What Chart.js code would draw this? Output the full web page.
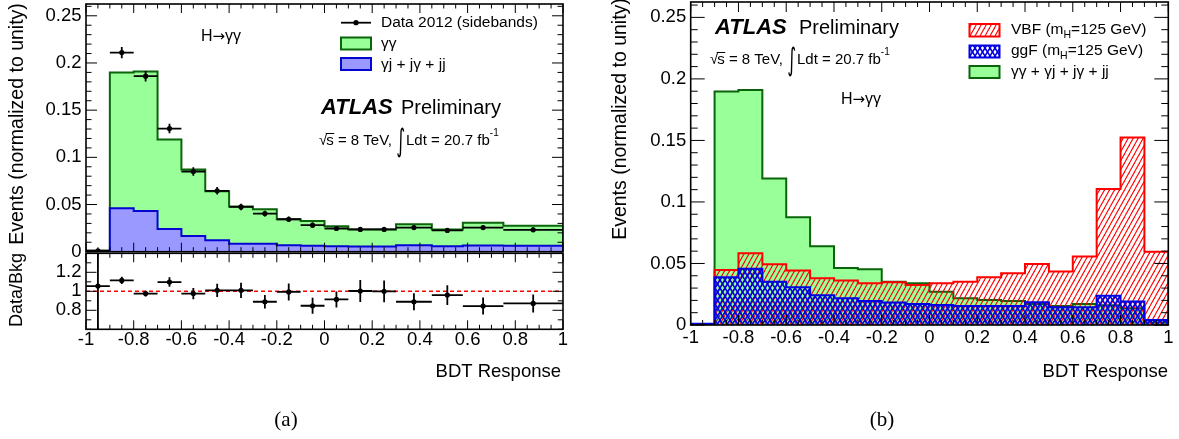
<!DOCTYPE html>
<html>
<head>
<meta charset="utf-8">
<script src="https://cdn.jsdelivr.net/npm/chart.js@4.4.0/dist/chart.umd.min.js"></script>
<style>
  html, body { margin: 0; padding: 0; background: #fff; }
  #wrap { position: relative; width: 1179px; height: 439px; }
  #wrap canvas { position: absolute; left: 0; top: 0; }
</style>
</head>
<body>
<div id="wrap">
  <canvas id="mainLeft" width="1179" height="439"></canvas>
  <canvas id="ratioLeft" width="1179" height="439"></canvas>
  <canvas id="mainRight" width="1179" height="439"></canvas>
</div>
<script>
// ---------- (a) sideband data vs. background model ----------
const leftEdges = [-1, -0.9, -0.8, -0.7, -0.6, -0.5, -0.4, -0.3, -0.2, -0.1, 0, 0.1, 0.2, 0.3, 0.45, 0.58, 0.75, 1];
const gamgam    = [0.001, 0.144, 0.148, 0.095, 0.0703, 0.0518, 0.0397, 0.0367, 0.0276, 0.0264, 0.0212, 0.0181, 0.0181, 0.0224, 0.0178, 0.0241, 0.0213];
const reducible = [0, 0.046, 0.043, 0.024, 0.0167, 0.0122, 0.0083, 0.0083, 0.0068, 0.0062, 0.0058, 0.0055, 0.0055, 0.0068, 0.0058, 0.0065, 0.0062];
const sideband  = [0.001, 0.211, 0.186, 0.1305, 0.085, 0.0645, 0.0474, 0.0404, 0.0344, 0.0281, 0.0246, 0.0236, 0.0236, 0.0256, 0.0225, 0.0256, 0.0232];
const sidebandErr = [0.001, 0.006, 0.0055, 0.005, 0.0045, 0.004, 0.0035, 0.003, 0.003, 0.0028, 0.0025, 0.0025, 0.0025, 0.0025, 0.0024, 0.0025, 0.0024];
const ratio     = [1.055, 1.114, 0.976, 1.097, 0.976, 1.01, 1.01, 0.89, 0.993, 0.848, 0.914, 1.003, 1.0, 0.89, 0.96, 0.845, 0.872];
const ratioErr  = [1.0, 0.038, 0.03, 0.05, 0.06, 0.07, 0.08, 0.07, 0.09, 0.085, 0.085, 0.115, 0.115, 0.09, 0.105, 0.09, 0.095];

// ---------- (b) signal and background shapes ----------
const rightEdges = [-1, -0.9, -0.8, -0.7, -0.6, -0.5, -0.4, -0.3, -0.2, -0.1, 0, 0.1, 0.2, 0.3, 0.4, 0.5, 0.6, 0.7, 0.8, 0.9, 1];
const bkgShape = [0, 0.1897, 0.191, 0.119, 0.0875, 0.064, 0.0464, 0.0453, 0.0352, 0.0339, 0.0271, 0.0217, 0.0203, 0.0195, 0.017, 0.0154, 0.0171, 0.016, 0.0136, 0.002];
const vbfShape = [0, 0.0447, 0.0583, 0.0493, 0.0442, 0.038, 0.0361, 0.0339, 0.0347, 0.0325, 0.034, 0.0352, 0.0388, 0.042, 0.0496, 0.0434, 0.0556, 0.1106, 0.1523, 0.0596];
const ggfShape = [0.001, 0.0388, 0.0458, 0.0352, 0.0306, 0.0241, 0.0217, 0.0195, 0.0182, 0.0171, 0.0163, 0.0154, 0.0154, 0.0154, 0.0184, 0.0144, 0.0144, 0.0238, 0.019, 0.004];

// ---------- axes ----------
const xTicks = [-1, -0.8, -0.6, -0.4, -0.2, 0, 0.2, 0.4, 0.6, 0.8, 1];
const xTickLabels = ['-1', '-0.8', '-0.6', '-0.4', '-0.2', '0', '0.2', '0.4', '0.6', '0.8', '1'];
const yTicks = [0, 0.05, 0.1, 0.15, 0.2, 0.25];
const yTickLabels = ['0', '0.05', '0.1', '0.15', '0.2', '0.25'];
const ratioTicks = [0.8, 1, 1.2];
const ratioTickLabels = ['0.8', '1', '1.2'];

const LS = '"Liberation Sans", Arial, Helvetica, sans-serif';
const GREEN_FILL = '#99ff99', GREEN_LINE = '#0a640a';
const BLUE_FILL = '#9999ff', BLUE_LINE = '#0505d2';
const RED = '#ff0000';

function steps(from, to, step) {
  const out = [];
  for (let k = 0; from + k * step <= to + 1e-9; k++) out.push(+(from + k * step).toFixed(4));
  return out;
}

// ROOT-style histogram outline: up from zero at the first edge, down to zero at the last
function histPoints(edges, values) {
  const pts = [{ x: edges[0], y: 0 }];
  values.forEach((v, i) => pts.push({ x: edges[i], y: v }));
  pts.push({ x: edges[edges.length - 1], y: values[values.length - 1] });
  pts.push({ x: edges[edges.length - 1], y: 0 });
  return pts;
}

const centers = leftEdges.slice(0, -1).map((e, i) => (e + leftEdges[i + 1]) / 2);

function hatchPattern(ctx) {
  const c = document.createElement('canvas');
  c.width = 5; c.height = 9;
  const g = c.getContext('2d');
  g.strokeStyle = RED; g.lineWidth = 1.1;
  for (const dx of [-5, 0, 5]) {
    g.beginPath(); g.moveTo(dx, 9); g.lineTo(dx + 5, 0); g.stroke();
  }
  return ctx.createPattern(c, 'repeat');
}

function crossPattern(ctx) {
  const c = document.createElement('canvas');
  c.width = 5; c.height = 8;
  const g = c.getContext('2d');
  g.strokeStyle = '#0000e0'; g.lineWidth = 1.6;
  for (const dx of [-5, 0, 5]) {
    g.beginPath(); g.moveTo(dx, 8); g.lineTo(dx + 5, 0); g.stroke();
    g.beginPath(); g.moveTo(dx, 0); g.lineTo(dx + 5, 8); g.stroke();
  }
  return ctx.createPattern(c, 'repeat');
}

// frame with inward ticks on all four sides, plus tick labels
function rootFrame(cfg) {
  return {
    id: 'rootFrame',
    afterDraw(chart) {
      const { ctx, chartArea: a, scales: { x, y } } = chart;
      const isMajor = (v, list) => list.some(t => Math.abs(t - v) < 1e-6);
      ctx.save();
      ctx.strokeStyle = '#000';
      ctx.lineWidth = 1;
      const seg = (x0, y0, x1, y1) => { ctx.beginPath(); ctx.moveTo(x0, y0); ctx.lineTo(x1, y1); ctx.stroke(); };
      cfg.xMinor.forEach(v => {
        const px = x.getPixelForValue(v);
        const len = isMajor(v, cfg.xMajor) ? cfg.xLen : cfg.xLen / 2;
        seg(px, a.bottom, px, a.bottom - len);
        seg(px, a.top, px, a.top + len);
      });
      cfg.yMinor.forEach(v => {
        const py = y.getPixelForValue(v);
        const len = isMajor(v, cfg.yMajor) ? cfg.yLen : cfg.yLen / 2;
        seg(a.left, py, a.left + len, py);
        seg(a.right, py, a.right - len, py);
      });
      ctx.lineWidth = 1.6;
      ctx.strokeRect(a.left, a.top, a.right - a.left, a.bottom - a.top);

      ctx.fillStyle = '#000';
      ctx.font = `18.5px ${LS}`;
      ctx.textBaseline = 'middle';
      if (cfg.xLabels) {
        ctx.textAlign = 'center';
        cfg.xMajor.forEach((v, i) => ctx.fillText(cfg.xLabels[i], x.getPixelForValue(v), cfg.xLabelY));
      }
      ctx.textAlign = 'right';
      cfg.yMajor.forEach((v, i) => ctx.fillText(cfg.yLabels[i], a.left - 4.5, y.getPixelForValue(v)));
      ctx.restore();
    }
  };
}

// horizontal bin-width bars and vertical error bars for data points
const errorBars = {
  id: 'errorBars',
  afterDatasetsDraw(chart) {
    const { ctx, chartArea: a, scales: { x, y } } = chart;
    ctx.save();
    ctx.beginPath(); ctx.rect(a.left, a.top, a.right - a.left, a.bottom - a.top); ctx.clip();
    ctx.strokeStyle = '#000';
    ctx.lineWidth = 1.8;
    chart.data.datasets.forEach(ds => {
      if (!ds.errBars) return;
      const { lo, hi, err } = ds.errBars;
      ds.data.forEach((p, i) => {
        const px = x.getPixelForValue(p.x), py = y.getPixelForValue(p.y);
        ctx.beginPath();
        ctx.moveTo(x.getPixelForValue(lo[i]), py);
        ctx.lineTo(x.getPixelForValue(hi[i]), py);
        ctx.moveTo(px, y.getPixelForValue(p.y - err[i]));
        ctx.lineTo(px, y.getPixelForValue(p.y + err[i]));
        ctx.stroke();
      });
    });
    ctx.restore();
  }
};

function atlasLabel(ctx, x, y, xPrel) {
  ctx.textAlign = 'left';
  ctx.textBaseline = 'middle';
  ctx.font = `italic bold 22px ${LS}`;
  ctx.fillText('ATLAS', x, y);
  ctx.font = `20px ${LS}`;
  ctx.fillText('Preliminary', xPrel, y);
}

function lumiLabel(ctx, x, y) {
  ctx.textAlign = 'left';
  ctx.textBaseline = 'middle';
  ctx.font = `15px ${LS}`;
  ctx.fillText('\u221A', x, y);
  let cx = x + ctx.measureText('\u221A').width - 1;
  const sw = ctx.measureText('s').width;
  ctx.fillText('s', cx, y);
  ctx.lineWidth = 1;
  ctx.beginPath(); ctx.moveTo(cx - 0.5, y - 7.5); ctx.lineTo(cx + sw + 0.5, y - 7.5); ctx.stroke();
  cx += sw;
  const t1 = ' = 8 TeV, ';
  ctx.fillText(t1, cx, y);
  cx += ctx.measureText(t1).width;
  // tall integral sign
  ctx.save();
  ctx.translate(cx, y + 2);
  ctx.scale(0.85, 1.55);
  ctx.font = `20px "DejaVu Sans", ${LS}`;
  ctx.fillText('\u222B', 0, 0);
  const iw = ctx.measureText('\u222B').width * 0.85;
  ctx.restore();
  cx += iw + 1;
  ctx.font = `15px ${LS}`;
  const t2 = 'Ldt = 20.7 fb';
  ctx.fillText(t2, cx, y);
  cx += ctx.measureText(t2).width;
  ctx.font = `10px ${LS}`;
  ctx.fillText('-1', cx, y - 8);
}

// "H -> gamma gamma" with a proper wide arrow
function channelLabel(ctx, xc, y) {
  ctx.textAlign = 'left';
  ctx.textBaseline = 'middle';
  const parts = [['H', `16px ${LS}`], ['\u2192', '15px "DejaVu Sans", sans-serif'], ['\u03B3\u03B3', `16px ${LS}`]];
  let w = 0;
  parts.forEach(([t, f]) => { ctx.font = f; w += ctx.measureText(t).width; });
  let cx = xc - w / 2;
  parts.forEach(([t, f]) => { ctx.font = f; ctx.fillText(t, cx, y); cx += ctx.measureText(t).width; });
}

function verticalTitle(ctx, text, x, yCenter, size) {
  ctx.save();
  ctx.translate(x, yCenter);
  ctx.rotate(-Math.PI / 2);
  ctx.font = `${size}px ${LS}`;
  ctx.textAlign = 'center';
  ctx.textBaseline = 'middle';
  ctx.fillText(text, 0, 0);
  ctx.restore();
}

const common = {
  responsive: false,
  animation: false,
  events: [],
  plugins: { legend: { display: false }, tooltip: { enabled: false } },
  elements: { line: { borderJoinStyle: 'miter', borderCapStyle: 'butt', tension: 0 } }
};

// ---------- (a) upper pad ----------
const stackTop = gamgam.map((v, i) => v + reducible[i]);

new Chart(document.getElementById('mainLeft'), {
  type: 'line',
  data: {
    datasets: [
      {
        label: 'Data 2012 (sidebands)',
        data: centers.map((c, i) => ({ x: c, y: sideband[i] })),
        showLine: false, pointRadius: 2.6, pointBackgroundColor: '#000', pointBorderWidth: 0,
        errBars: { lo: leftEdges.slice(0, -1), hi: leftEdges.slice(1), err: sidebandErr },
        order: 0
      },
      {
        label: '\u03B3j + j\u03B3 + jj',
        data: histPoints(leftEdges, reducible),
        stepped: true, fill: 'origin', backgroundColor: BLUE_FILL, borderColor: BLUE_LINE,
        borderWidth: 2, pointRadius: 0, order: 1
      },
      {
        label: '\u03B3\u03B3',
        data: histPoints(leftEdges, stackTop),
        stepped: true, fill: 'origin', backgroundColor: GREEN_FILL, borderColor: GREEN_LINE,
        borderWidth: 2, pointRadius: 0, order: 2
      }
    ]
  },
  options: {
    ...common,
    layout: { padding: { left: 86, top: 2, right: 616, bottom: 187.3 } },
    scales: {
      x: { type: 'linear', min: -1, max: 1, display: false },
      y: { type: 'linear', min: 0, max: 0.2625, display: false }
    }
  },
  plugins: [
    errorBars,
    rootFrame({ xMajor: xTicks, xMinor: steps(-1, 1, 0.05), xLen: 9, yMajor: yTicks, yMinor: steps(0, 0.26, 0.01), yLen: 11, yLabels: yTickLabels }),
    {
      id: 'leftText',
      afterDraw(chart) {
        const ctx = chart.ctx;
        ctx.save();
        ctx.fillStyle = '#000';
        ctx.strokeStyle = '#000';
        verticalTitle(ctx, 'Events (normalized to unity)', 17.5, 124, 19.5);

        channelLabel(ctx, 221, 37);

        // legend
        ctx.lineWidth = 1.8;
        ctx.beginPath(); ctx.moveTo(341, 22.7); ctx.lineTo(371, 22.7); ctx.stroke();
        ctx.beginPath(); ctx.arc(356, 22.7, 2.6, 0, Math.PI * 2); ctx.fill();
        ctx.lineWidth = 2;
        ctx.fillStyle = GREEN_FILL; ctx.fillRect(341, 37.5, 30, 12);
        ctx.strokeStyle = GREEN_LINE; ctx.strokeRect(341, 37.5, 30, 12);
        ctx.fillStyle = BLUE_FILL; ctx.fillRect(341, 58, 30, 12);
        ctx.strokeStyle = BLUE_LINE; ctx.strokeRect(341, 58, 30, 12);
        ctx.fillStyle = '#000';
        ctx.font = `15.5px ${LS}`;
        ctx.textAlign = 'left';
        ctx.fillText('Data 2012 (sidebands)', 381, 23);
        ctx.fillText('\u03B3\u03B3', 381, 44);
        ctx.fillText('\u03B3j + j\u03B3 + jj', 381, 64.5);

        atlasLabel(ctx, 321, 108, 401);
        ctx.strokeStyle = '#000';
        lumiLabel(ctx, 319, 141);
        ctx.restore();
      }
    }
  ]
});

// ---------- (a) ratio pad ----------
new Chart(document.getElementById('ratioLeft'), {
  type: 'line',
  data: {
    datasets: [
      {
        data: centers.map((c, i) => ({ x: c, y: ratio[i] })),
        showLine: false, pointRadius: 2.6, pointBackgroundColor: '#000', pointBorderWidth: 0,
        errBars: { lo: leftEdges.slice(0, -1), hi: leftEdges.slice(1), err: ratioErr },
        order: 0
      },
      {
        data: [{ x: -1, y: 1 }, { x: 1, y: 1 }],
        borderColor: RED, borderWidth: 1.5, borderDash: [4, 3], pointRadius: 0, fill: false, order: 1
      }
    ]
  },
  options: {
    ...common,
    layout: { padding: { left: 86, top: 253.3, right: 616, bottom: 109.7 } },
    scales: {
      x: { type: 'linear', min: -1, max: 1, display: false },
      y: { type: 'linear', min: 0.6, max: 1.4, display: false }
    }
  },
  plugins: [
    errorBars,
    rootFrame({ xMajor: xTicks, xMinor: steps(-1, 1, 0.05), xLen: 9, xLabels: xTickLabels, xLabelY: 340,
                yMajor: ratioTicks, yMinor: steps(0.6, 1.4, 0.1), yLen: 10.5, yLabels: ratioTickLabels }),
    {
      id: 'ratioText',
      afterDraw(chart) {
        const ctx = chart.ctx;
        ctx.save();
        ctx.fillStyle = '#000';
        verticalTitle(ctx, 'Data/Bkg', 17.5, 290, 18);
        ctx.font = `18.5px ${LS}`;
        ctx.textAlign = 'right';
        ctx.textBaseline = 'middle';
        ctx.fillText('BDT Response', 561, 371.5);
        ctx.font = '21px "Liberation Serif", "Times New Roman", serif';
        ctx.textAlign = 'center';
        ctx.fillText('(a)', 286, 420);
        ctx.restore();
      }
    }
  ]
});

// ---------- (b) ----------
const rightCanvas = document.getElementById('mainRight');
const rctx = rightCanvas.getContext('2d');
const vbfHatch = hatchPattern(rctx);
const ggfCross = crossPattern(rctx);

new Chart(rightCanvas, {
  type: 'line',
  data: {
    datasets: [
      {
        label: 'ggF (mH=125 GeV)',
        data: histPoints(rightEdges, ggfShape),
        stepped: true, fill: 'origin', backgroundColor: ggfCross, borderColor: '#0000e0',
        borderWidth: 2, pointRadius: 0, order: 0
      },
      {
        label: 'VBF (mH=125 GeV)',
        data: histPoints(rightEdges, vbfShape),
        stepped: true, fill: 'origin', backgroundColor: vbfHatch, borderColor: RED,
        borderWidth: 2, pointRadius: 0, order: 1
      },
      {
        label: '\u03B3\u03B3 + \u03B3j + j\u03B3 + jj',
        data: histPoints(rightEdges, bkgShape),
        stepped: true, fill: 'origin', backgroundColor: GREEN_FILL, borderColor: GREEN_LINE,
        borderWidth: 2, pointRadius: 0, order: 2
      }
    ]
  },
  options: {
    ...common,
    layout: { padding: { left: 690.7, top: 2, right: 10.7, bottom: 114 } },
    scales: {
      x: { type: 'linear', min: -1, max: 1, display: false },
      y: { type: 'linear', min: 0, max: 0.2625, display: false }
    }
  },
  plugins: [
    rootFrame({ xMajor: xTicks, xMinor: steps(-1, 1, 0.05), xLen: 10, xLabels: xTickLabels, xLabelY: 338,
                yMajor: yTicks, yMinor: steps(0, 0.26, 0.01), yLen: 14, yLabels: yTickLabels }),
    {
      id: 'rightText',
      afterDraw(chart) {
        const ctx = chart.ctx;
        ctx.save();
        ctx.fillStyle = '#000';
        ctx.strokeStyle = '#000';
        verticalTitle(ctx, 'Events (normalized to unity)', 621, 119, 19.5);

        ctx.font = `18.5px ${LS}`;
        ctx.textAlign = 'right';
        ctx.textBaseline = 'middle';
        ctx.fillText('BDT Response', 1168, 371.5);
        ctx.font = '21px "Liberation Serif", "Times New Roman", serif';
        ctx.textAlign = 'center';
        ctx.fillText('(b)', 882, 420);

        channelLabel(ctx, 861, 100);

        atlasLabel(ctx, 715, 28, 799);
        lumiLabel(ctx, 710, 60);

        // legend boxes
        ctx.lineWidth = 2;
        ctx.fillStyle = vbfHatch; ctx.fillRect(969.5, 24, 30, 12.5);
        ctx.strokeStyle = RED; ctx.strokeRect(969.5, 24, 30, 12.5);
        ctx.fillStyle = ggfCross; ctx.fillRect(969.5, 45.5, 30, 12);
        ctx.strokeStyle = '#0000e0'; ctx.strokeRect(969.5, 45.5, 30, 12);
        ctx.fillStyle = GREEN_FILL; ctx.fillRect(969.5, 66, 30, 12);
        ctx.strokeStyle = GREEN_LINE; ctx.strokeRect(969.5, 66, 30, 12);

        ctx.fillStyle = '#000';
        ctx.textAlign = 'left';
        const entry = (head, y) => {
          ctx.font = `15.5px ${LS}`;
          ctx.fillText(head + ' (m', 1011, y);
          let cx = 1011 + ctx.measureText(head + ' (m').width;
          ctx.font = `10.5px ${LS}`;
          ctx.fillText('H', cx, y + 5);
          cx += ctx.measureText('H').width;
          ctx.font = `15.5px ${LS}`;
          ctx.fillText('=125 GeV)', cx, y);
        };
        entry('VBF', 30);
        entry('ggF', 51);
        ctx.font = `15.5px ${LS}`;
        ctx.fillText('\u03B3\u03B3 + \u03B3j + j\u03B3 + jj', 1011, 72);
        ctx.restore();
      }
    }
  ]
});
</script>
</body>
</html>
